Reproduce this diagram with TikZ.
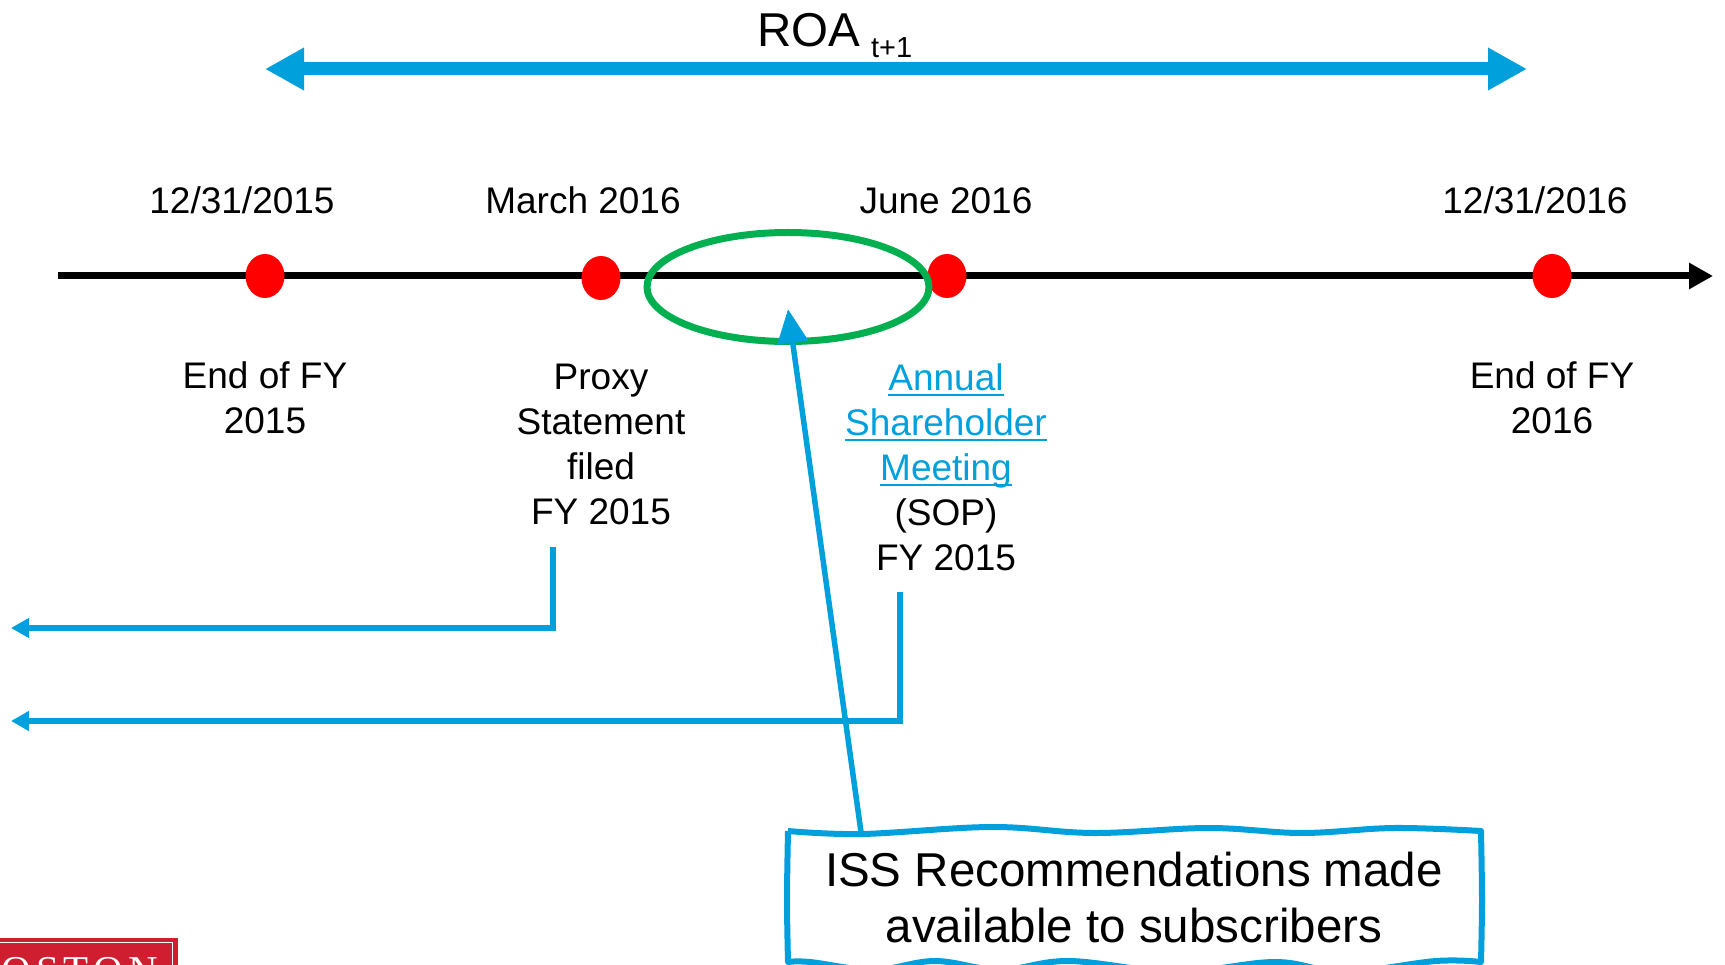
\documentclass[tikz,border=0pt]{standalone}
\usepackage{fontspec}
\setmainfont{Liberation Sans}
\newfontfamily\logofont{Liberation Serif}
\usetikzlibrary{arrows.meta,shapes.geometric}

\definecolor{roablue}{RGB}{0,160,220}
\definecolor{mkgreen}{RGB}{0,176,80}
\definecolor{dotred}{RGB}{255,0,0}
\definecolor{logored}{RGB}{206,30,48}

% blue, underlined hyperlink-style word
\newsavebox\ulbox
\newcommand\linkword[1]{\sbox\ulbox{#1}\textcolor{roablue}{\rlap{\rule[-0.16em]{\wd\ulbox}{0.055em}}#1}}

\begin{document}
\begin{tikzpicture}[x=1pt,y=-1pt,
  datelbl/.style={font=\fontsize{37}{45}\selectfont, anchor=base, inner sep=0pt},
  evlabel/.style={font=\fontsize{37}{45}\selectfont, align=center, anchor=north, inner sep=0pt},
  event/.style={ellipse, fill=dotred, minimum width=39pt, minimum height=44pt, inner sep=0pt},
  conn/.style={roablue, line width=5.5pt, line join=miter, -{Triangle[length=18pt,width=19pt]}},
  isstext/.style={font=\fontsize{47.5}{56}\selectfont, align=center, anchor=north, inner sep=0pt}]

\useasboundingbox (0,0) rectangle (1725,965);
\clip (0,0) rectangle (1725,965);

% ROA span arrow
\node[anchor=base west, inner sep=0pt, font=\fontsize{47.5}{50}\selectfont] (roa) at (757,47)
  {ROA\hspace{11pt}\raisebox{-11pt}{\fontsize{29}{30}\selectfont t+1}};
\coordinate (roaL) at (265,69);
\coordinate (roaR) at (1527,69);
\draw[roablue, line width=13pt,
  {Triangle[length=39pt,width=40pt]}-{Triangle[length=39pt,width=40pt]}] (roaL) -- (roaR);

% time line
\coordinate (tl0) at (58,276);
\coordinate (tl1) at (1713,276);
\draw[line width=7pt, -{Triangle[length=24pt,width=25pt]}] (tl0) -- (tl1);

% events on the line
\node[event] (d1) at (265,276) {};
\node[event] (d2) at (601,278) {};
\node[event] (d3) at (947,276) {};
\node[event] (d4) at (1552,276) {};

% dates
\node[datelbl] (t1) at (242,214) {12/31/2015};
\node[datelbl] (t2) at (583,214) {March 2016};
\node[datelbl] (t3) at (946,214) {June 2016};
\node[datelbl] (t4) at (1535,214) {12/31/2016};

% highlighted window
\node[draw=mkgreen, line width=7pt, ellipse, minimum width=282pt, minimum height=109pt, inner sep=0pt]
  (focus) at (788,287) {};

% event descriptions
\node[evlabel] (e1) at (265,361) {End of FY\\2015};
\node[evlabel] (e2) at (601,364) {Proxy\\Statement\\filed\\FY 2015};
\node[evlabel] (e3) at (946,363) {\linkword{Annual}\\\linkword{Shareholder}\\\linkword{Meeting}\\(SOP)\\FY 2015};
\node[evlabel] (e4) at (1552,361) {End of FY\\2016};

% look-back connectors
\coordinate (p1) at (553,547);
\coordinate (q1) at (11,628);
\draw[conn] (p1) |- (q1);
\coordinate (p2) at (900,592);
\coordinate (q2) at (11,721);
\draw[conn] (p2) |- (q2);

% ISS callout frame with wavy edges
\draw[roablue, line width=6pt, line join=round, fill=white]
  plot[smooth, tension=0.6] coordinates {(788,831) (862,834) (992,827) (1094,833) (1209,828) (1302,833) (1394,828) (1481,831)}
  -- plot[smooth, tension=0.6] coordinates {(1481,831) (1482,900) (1481,962)}
  -- plot[smooth, tension=0.6] coordinates {(1481,962) (1436,961) (1344,972) (1275,962) (1176,972) (1069,961) (1000,970) (935,961) (874,970) (810,962) (788,962)}
  -- plot[smooth, tension=0.6] coordinates {(788,962) (787,900) (788,831)};
\node[isstext] (iss) at (1134,852) {ISS Recommendations made\\available to subscribers};

% pointer from the callout into the window
\coordinate (isstop) at (861,832);
\coordinate (aim) at (788,309);
\draw[roablue, line width=5.5pt, -{Triangle[length=34pt,width=30pt]}] (isstop) -- (aim);

% logo corner
\fill[logored] (0,938) rectangle (178,1000);
\draw[white, line width=1pt] (-5,942.5) -- (172.5,942.5) -- (172.5,1000);
\node[anchor=base west, inner sep=0pt, text=white, font=\logofont\fontsize{41}{41}\selectfont]
  (logo) at (-31,984) {B\hspace{5pt}O\hspace{5pt}S\hspace{5pt}T\hspace{5pt}O\hspace{5pt}N};

\end{tikzpicture}
\end{document}
